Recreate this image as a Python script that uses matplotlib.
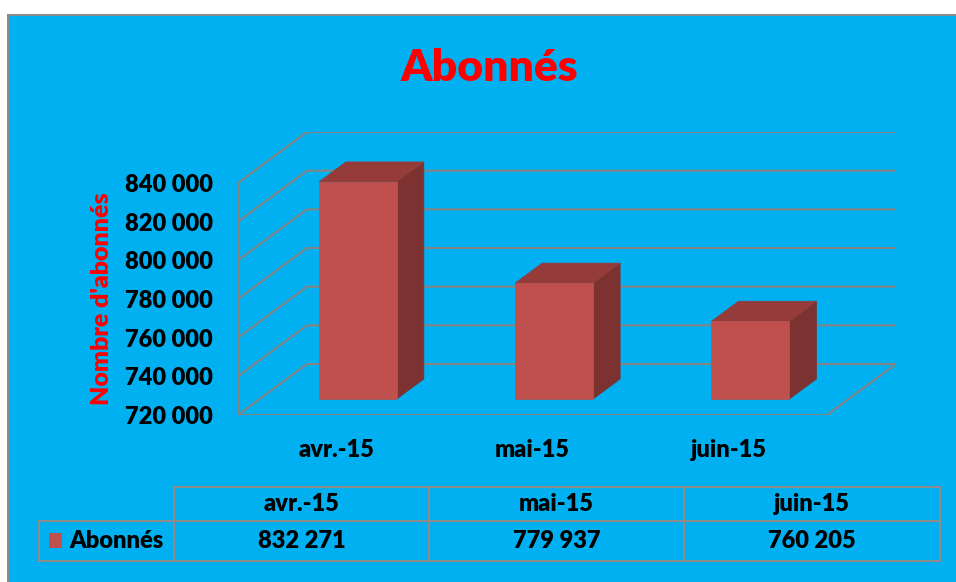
import numpy as np
import matplotlib
matplotlib.use("Agg")
import matplotlib.pyplot as plt
from matplotlib.patches import Polygon, Rectangle

#--------------------------------------------
# data
months = ["avr.-15", "mai-15", "juin-15"]
abonnes = [832271, 779937, 760205]
series_name = "Abonnés"
y_ticks = [720000, 740000, 760000, 780000, 800000, 820000, 840000]
y_label = "Nombre d'abonnés"

#--------------------------------------------
# style
plt.rcParams['font.family'] = ['Lato', 'DejaVu Sans']
bg = "#00B0F0"
grid_c = "#858585"
face_c = "#C0504D"
top_c = "#953B39"
side_c = "#7B3230"
W, H = 956, 582
FW = "heavy"
FS = 17

def fmt(v):
    return "{0:,}".format(v).replace(",", " ")

fig = plt.figure(figsize=(W / 100, H / 100), dpi=100, facecolor="white")

# overlay axes in pixel coordinates for frame, title and data table
lay = fig.add_axes([0, 0, 1, 1])
lay.set_xlim(0, W)
lay.set_ylim(H, 0)
lay.axis("off")
lay.add_patch(Rectangle((8, 15), W + 10, H, facecolor=bg, edgecolor="#8C8C8C", lw=1.5))
lay.text(489, 81, series_name, color="red", fontsize=32, fontweight=FW,
         ha="center", va="baseline")
lay.text(102, 299, y_label, color="red", fontsize=18, fontweight=FW,
         rotation=90, ha="center", va="center")

#--------------------------------------------
# 3D plot area
y0 = y_ticks[0]
ytop = y_ticks[-1]
px_per_cat = 196.3
px_per_val = 232.0 / (ytop - y0)
DX = 69.0 / px_per_cat
DY = 51.0 / px_per_val
n = len(months)
xlim = (-0.5, n - 0.5 + DX)
ylim = (y0, ytop + DY)
ax_w = (xlim[1] - xlim[0]) * px_per_cat
ax_h = (ylim[1] - ylim[0]) * px_per_val
ax_left, ax_bottom = 238, 415
ax = fig.add_axes([ax_left / W, (H - ax_bottom) / H, ax_w / W, ax_h / H])
ax.set_xlim(*xlim)
ax.set_ylim(*ylim)
ax.patch.set_alpha(0)
for s in ax.spines.values():
    s.set_visible(False)

def proj(x, v, d):
    return (x + d * DX, v + d * DY)

# walls and grid
for v in y_ticks:
    pts = [proj(-0.5, v, 0), proj(-0.5, v, 1), proj(n - 0.5, v, 1)]
    ax.plot([p[0] for p in pts], [p[1] for p in pts], color=grid_c, lw=1.5, zorder=1)
pts = [proj(-0.5, ytop, 0), proj(-0.5, y0, 0), proj(n - 0.5, y0, 0), proj(n - 0.5, y0, 1)]
ax.plot([p[0] for p in pts], [p[1] for p in pts], color=grid_c, lw=1.5, zorder=1)

# bars
bw = 0.397
d0, d1 = 0.314, 0.706
for i, val in enumerate(abonnes):
    l, r = i - bw / 2, i + bw / 2
    front = [proj(l, y0, d0), proj(r, y0, d0), proj(r, val, d0), proj(l, val, d0)]
    top = [proj(l, val, d0), proj(r, val, d0), proj(r, val, d1), proj(l, val, d1)]
    side = [proj(r, y0, d0), proj(r, val, d0), proj(r, val, d1), proj(r, y0, d1)]
    ax.add_patch(Polygon(side, closed=True, facecolor=side_c, edgecolor=side_c, lw=0.5, zorder=3))
    ax.add_patch(Polygon(top, closed=True, facecolor=top_c, edgecolor=top_c, lw=0.5, zorder=3))
    ax.add_patch(Polygon(front, closed=True, facecolor=face_c, edgecolor=face_c, lw=0.5, zorder=4))

ax.set_yticks(y_ticks, [fmt(v) for v in y_ticks])
ax.set_xticks(range(n), months)
ax.tick_params(axis="both", length=0, labelsize=FS)
ax.tick_params(axis="y", pad=18)
ax.tick_params(axis="x", pad=17)
for lab in ax.get_yticklabels() + ax.get_xticklabels():
    lab.set_fontweight(FW)

#--------------------------------------------
# data table
col_x = [174, 429, 684, 940]
row_y = [487, 521, 561]
tc = "#8C8C8C"
lay.plot([col_x[0], col_x[-1]], [row_y[0], row_y[0]], color=tc, lw=1.5)
lay.plot([39, col_x[-1]], [row_y[1], row_y[1]], color=tc, lw=1.5)
lay.plot([39, col_x[-1]], [row_y[2], row_y[2]], color=tc, lw=1.5)
lay.plot([39, 39], [row_y[1], row_y[2]], color=tc, lw=1.5)
for cx in col_x:
    lay.plot([cx, cx], [row_y[0], row_y[2]], color=tc, lw=1.5)
lay.add_patch(Rectangle((49, 533), 13, 15, facecolor=face_c, edgecolor="none"))
lay.text(69, 541, series_name, fontsize=FS, fontweight=FW, ha="left", va="center")
for j in range(n):
    cx = (col_x[j] + col_x[j + 1]) / 2
    lay.text(cx, 504, months[j], fontsize=FS, fontweight=FW, ha="center", va="center")
    lay.text(cx, 541, fmt(abonnes[j]), fontsize=FS, fontweight=FW, ha="center", va="center")

fig.savefig("out.png", dpi=100, facecolor=fig.get_facecolor())
